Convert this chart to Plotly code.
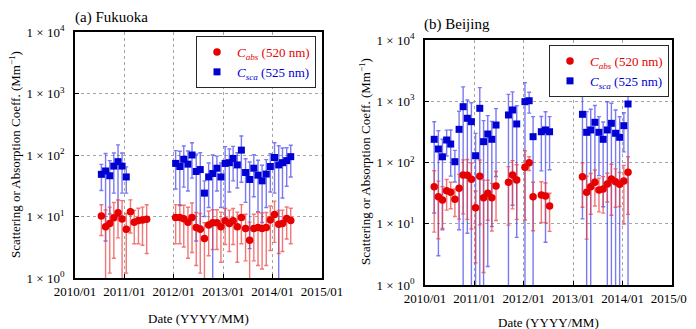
import plotly.graph_objects as go
import pandas as pd

# ---------------- data ----------------
fk_sca_months = ["2010-07", "2010-08", "2010-09", "2010-10", "2010-11", "2010-12", "2011-01",
                 "2012-01", "2012-02", "2012-03", "2012-04", "2012-05", "2012-06", "2012-07", "2012-08",
                 "2012-09", "2012-10", "2012-11", "2012-12",
                 "2013-01", "2013-02", "2013-03", "2013-04", "2013-05", "2013-06", "2013-07", "2013-08",
                 "2013-09", "2013-10", "2013-11", "2013-12",
                 "2014-01", "2014-02", "2014-03", "2014-04", "2014-05"]
fk_sca = [48.5, 55, 46, 66, 78, 66, 44,
          73, 65, 85, 71, 100, 54, 58, 24, 44, 50, 61, 44,
          73, 75, 88, 69, 120, 52, 40, 61, 47, 38, 49, 65,
          91, 69, 75, 81, 94]
fk_sca_err = [22, 51, 35, 42, 68, 42, 20,
              45, 50, 55, 45, 58, 50, 51, 14, 30, 50, 35, 30,
              64, 50, 50, 40, 84, 35, 37, 40, 35, 30, 35, 40,
              67, 72, 55, 50, 50]

fk_abs_months = ["2010-07", "2010-08", "2010-09", "2010-10", "2010-11", "2010-12",
                 "2011-01", "2011-02", "2011-03", "2011-04", "2011-05", "2011-06",
                 "2012-01", "2012-02", "2012-03", "2012-04", "2012-05", "2012-06", "2012-07", "2012-08",
                 "2012-09", "2012-10", "2012-11", "2012-12",
                 "2013-01", "2013-02", "2013-03", "2013-04", "2013-05", "2013-06", "2013-07", "2013-08",
                 "2013-09", "2013-10", "2013-11", "2013-12",
                 "2014-01", "2014-02", "2014-03", "2014-04", "2014-05"]
fk_abs = [10.2, 6.8, 7.7, 9.5, 11.5, 9.1, 6.2, 12.0, 8.1, 8.6, 8.8, 9.0,
          9.6, 9.6, 9.2, 8.1, 9.6, 6.6, 6.2, 4.4, 7.3, 7.9, 7.9, 6.8,
          8.5, 7.7, 8.5, 6.8, 9.6, 6.4, 4.1, 6.4, 6.6, 6.4, 6.6, 8.8,
          10.8, 7.5, 7.7, 9.3, 8.6]
fk_abs_err = [5.3, 6, 6.5, 7.4, 7, 9, 5, 6.6, 4.5, 5, 5.4, 6.5,
              6, 6, 6, 6, 7, 5, 5, 3.5, 5, 5, 5, 5,
              5, 5, 5, 5, 6, 4.5, 4, 4.5, 5, 5, 5, 6,
              7, 5, 5, 5, 5]

bj_months = ["2010-03", "2010-04", "2010-05", "2010-06", "2010-07", "2010-08", "2010-09", "2010-10",
             "2010-11", "2010-12", "2011-01", "2011-02", "2011-03", "2011-04", "2011-05", "2011-06",
             "2011-09", "2011-10", "2011-11", "2012-01", "2012-02", "2012-03", "2012-05", "2012-06",
             "2012-07",
             "2013-03", "2013-04", "2013-05", "2013-06", "2013-07", "2013-08", "2013-09", "2013-10",
             "2013-11", "2013-12", "2014-01", "2014-02"]
bj_sca = [239, 166, 124, 233, 200, 103, 348, 815, 527, 464, 129, 767, 219, 292, 239, 409,
          597, 720, 426, 984, 1020, 264, 318, 340, 318,
          612, 311, 340, 453, 311, 239, 340, 436, 300, 258, 399, 902]
bj_sca_err = [224, 163, 116, 105, 140, 55, 340, 900, 520, 480, 170, 900, 263, 290, 230, 350,
              700, 700, 420, 1030, 380, 296, 245, 335, 242,
              600, 365, 400, 400, 250, 220, 644, 490, 420, 300, 250, 1100]
bj_abs = [40.3, 27.7, 24.4, 34.7, 32.6, 25.1, 37.9, 62.5, 61.8, 53.2, 18.3, 59.6, 26.6, 31.4, 26.6, 41.3,
          47.5, 62.5, 51.8, 83.5, 99, 27.7, 29.5, 28.4, 19.5,
          58.6, 32.6, 40.3, 47.5, 35.6, 36.9, 44.6, 53.8, 48.6, 44.1, 49.9, 69.2]
bj_abs_err = [33, 22, 16, 18, 15, 12, 26, 48, 50, 45, 16, 50, 25, 20, 19, 30,
              38, 45, 40, 72, 25, 20, 19, 18, 12,
              40, 27, 26, 28, 20, 22, 22, 40, 30, 25, 40, 55]

x_tick_vals = ["2010-01-01", "2011-01-01", "2012-01-01", "2013-01-01", "2014-01-01", "2015-01-01"]
x_tick_text = ["2010/01", "2011/01", "2012/01", "2013/01", "2014/01", "2015/01"]
y_tick_vals = [1, 10, 100, 1000, 10000]
y_tick_text = ["1 × 10<sup>0</sup>", "1 × 10<sup>1</sup>", "1 × 10<sup>2</sup>",
               "1 × 10<sup>3</sup>", "1 × 10<sup>4</sup>"]

# ---------------- styling ----------------
FONT = "Liberation Serif"
RED = "rgb(230,0,0)"
BLUE = "rgb(0,0,210)"
RED_ERR = "rgba(235,60,60,0.7)"
BLUE_ERR = "rgba(50,50,235,0.65)"
# the page body has an 8px margin, so the figure is 8px smaller and offset
OFF = 8
W, H = 696 - OFF, 329 - OFF


def to_dates(months, day):
    return [pd.Timestamp(m + "-%02d" % day) for m in months]


name_abs = '<span style="color:rgb(230,0,0)"><i>C</i><sub><i>abs</i></sub> (520 nm)</span>'
name_sca = '<span style="color:rgb(0,0,210)"><i>C</i><sub><i>sca</i></sub> (525 nm)</span>'

fig = go.Figure()


def add_pair(xa, ya, legend, sca_x, sca_y, sca_e, abs_x, abs_y, abs_e):
    fig.add_trace(go.Scatter(
        x=sca_x, y=sca_y, mode="markers", name=name_sca, xaxis=xa, yaxis=ya, legend=legend,
        marker=dict(symbol="square", size=7, color=BLUE),
        error_y=dict(type="data", array=sca_e, visible=True, color=BLUE_ERR, thickness=1.4, width=2)))
    fig.add_trace(go.Scatter(
        x=abs_x, y=abs_y, mode="markers", name=name_abs, xaxis=xa, yaxis=ya, legend=legend,
        marker=dict(symbol="circle", size=7.5, color=RED),
        error_y=dict(type="data", array=abs_e, visible=True, color=RED_ERR, thickness=1.4, width=2)))


add_pair("x", "y", "legend",
         to_dates(fk_sca_months, 15), fk_sca, fk_sca_err,
         to_dates(fk_abs_months, 15), fk_abs, fk_abs_err)
add_pair("x2", "y2", "legend2",
         to_dates(bj_months, 10), bj_sca, bj_sca_err,
         to_dates(bj_months, 10), bj_abs, bj_abs_err)


def px_x(p):
    return (p - OFF) / W


def px_y(p):
    return 1 - (p - OFF) / H


tick_font = dict(family=FONT, size=13, color="black")
xaxis_common = dict(
    type="date", range=["2010-01-01", "2015-01-01"],
    tickmode="array", tickvals=x_tick_vals, ticktext=x_tick_text, tickangle=0,
    showline=True, mirror=True, linecolor="black", linewidth=1.8,
    showgrid=True, gridcolor="rgb(165,165,165)", griddash="dot", gridwidth=1,
    ticks="inside", ticklen=4, tickcolor="black",
    tickfont=tick_font, automargin=False,
    zeroline=False,
)
yaxis_common = dict(
    type="log", range=[0, 4],
    tickmode="array", tickvals=y_tick_vals, ticktext=y_tick_text,
    showline=True, mirror=True, linecolor="black", linewidth=1.8,
    showgrid=True, gridcolor="rgb(165,165,165)", griddash="dot", gridwidth=1,
    ticks="inside", ticklen=4, tickcolor="black",
    tickfont=tick_font, automargin=False,
    ticklabelstandoff=6,
    zeroline=False,
)

legend_common = dict(
    bgcolor="white", bordercolor="rgb(40,40,40)", borderwidth=1,
    font=dict(family=FONT, size=13, color="black"),
    traceorder="reversed", xanchor="left", yanchor="top",
    itemsizing="trace", itemwidth=30, tracegroupgap=0,
)

fig.update_layout(
    width=W, height=H,
    margin=dict(l=0, r=0, t=0, b=0, autoexpand=False),
    paper_bgcolor="white", plot_bgcolor="white",
    showlegend=True,
    xaxis=dict(domain=[px_x(75), px_x(322)], anchor="y", **xaxis_common),
    yaxis=dict(domain=[px_y(278), px_y(32)], anchor="x", **yaxis_common),
    xaxis2=dict(domain=[px_x(425), px_x(672)], anchor="y2", **xaxis_common),
    yaxis2=dict(domain=[px_y(285), px_y(40)], anchor="x2", **yaxis_common),
    legend=dict(x=px_x(196), y=px_y(36), **legend_common),
    legend2=dict(x=px_x(549), y=px_y(45), **legend_common),
    font=dict(family=FONT, color="black"),
)

ann_font = dict(family=FONT, size=15, color="black")
lab_font = dict(family=FONT, size=13, color="black")
annotations = [
    dict(text="(a) Fukuoka", x=px_x(73), y=px_y(17), xanchor="left", yanchor="middle", font=ann_font),
    dict(text="(b) Beijing", x=px_x(422), y=px_y(24), xanchor="left", yanchor="middle", font=ann_font),
    dict(text="Scattering or Absorption Coeff. (Mm<sup>−1</sup>)", x=px_x(15), y=px_y(155),
         xanchor="center", yanchor="middle", textangle=-90, font=lab_font),
    dict(text="Scattering or Absorption Coeff. (Mm<sup>−1</sup>)", x=px_x(365), y=px_y(162),
         xanchor="center", yanchor="middle", textangle=-90, font=lab_font),
    dict(text="Date (YYYY/MM)", x=px_x(198), y=px_y(318), xanchor="center", yanchor="middle", font=lab_font),
    dict(text="Date (YYYY/MM)", x=px_x(548), y=px_y(322), xanchor="center", yanchor="middle", font=lab_font),
]
for a in annotations:
    a.update(xref="paper", yref="paper", showarrow=False)
fig.update_layout(annotations=annotations)

fig.write_html("out.html")
